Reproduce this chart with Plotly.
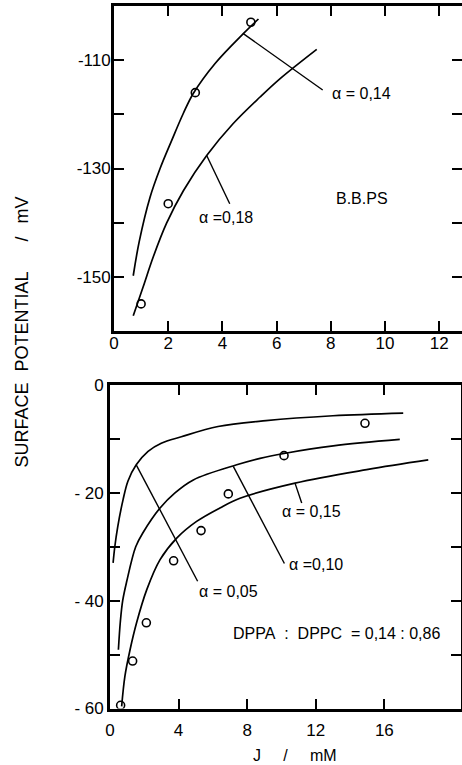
import plotly.graph_objects as go

# ---------------- data: top panel (BBPS) ----------------
bbps_pts_x = [1.0, 2.0, 3.0, 5.05]
bbps_pts_y = [-155.0, -136.5, -116.0, -103.0]

curve_014_x = [0.71, 0.93, 1.33, 1.70, 2.13, 2.56, 2.93, 3.73, 4.77, 5.33]
curve_014_y = [-149.8, -143.5, -135.3, -130.0, -124.8, -119.8, -116.1, -110.6, -105.1, -102.4]

curve_018_x = [0.71, 1.08, 1.45, 1.94, 2.56, 3.42, 4.40, 5.39, 6.13, 7.48]
curve_018_y = [-157.2, -151.8, -146.3, -140.1, -134.1, -127.6, -121.7, -116.8, -113.4, -108.0]

top_xticks = [0, 2, 4, 6, 8, 10, 12]
top_xtick_text = ["0", "2", "4", "6", "8", "10", "12"]
top_yticks = [-150, -140, -130, -120, -110]
top_ytick_text = ["-150", "", "-130", "", "-110"]

# ---------------- data: bottom panel (DPPA:DPPC) ----------------
dppa_pts_x = [0.62, 1.32, 2.12, 3.71, 5.31, 6.90, 10.15, 14.87]
dppa_pts_y = [-59.4, -51.2, -44.1, -32.6, -27.0, -20.2, -13.1, -7.1]

curve_005_x = [0.18, 0.28, 0.45, 0.76, 1.05, 1.53, 2.22, 2.99, 4.16, 6.30, 9.10, 13.0, 17.1]
curve_005_y = [-33.0, -30.0, -26.3, -21.3, -17.8, -14.8, -12.3, -10.8, -9.6, -7.7, -6.6, -5.7, -5.2]

curve_010_x = [0.49, 0.60, 0.74, 0.97, 1.50, 1.94, 2.92, 3.79, 4.86, 7.39, 8.75, 10.15, 13.02, 16.9]
curve_010_y = [-49.1, -44.0, -40.0, -36.5, -30.0, -27.3, -22.8, -20.0, -17.6, -14.8, -13.6, -12.7, -11.3, -10.1]

curve_015_x = [0.68, 0.87, 1.17, 1.55, 2.14, 2.92, 3.89, 5.05, 6.41, 7.58, 10.79, 14.97, 18.56]
curve_015_y = [-59.6, -54.0, -49.1, -44.1, -38.0, -32.4, -28.4, -25.3, -22.8, -21.0, -18.2, -15.7, -13.9]

bot_xticks = [0, 4, 8, 12, 16]
bot_xtick_text = ["0", "4", "8", "12", "16"]
bot_yticks = [-60, -50, -40, -30, -20, -10, 0]
bot_ytick_text = ["- 60", "", "- 40", "", "- 20", "", "0"]

FONT = "Liberation Sans"
W, H = 462, 765

fig = go.Figure()

line_style = dict(color="black", width=1.7)
marker_style = dict(symbol="circle-open", size=8, color="black", line=dict(width=1.6, color="black"))

# top panel traces
fig.add_trace(go.Scatter(x=curve_014_x, y=curve_014_y, mode="lines", line=line_style,
                         line_shape="spline", xaxis="x", yaxis="y"))
fig.add_trace(go.Scatter(x=curve_018_x, y=curve_018_y, mode="lines", line=line_style,
                         line_shape="spline", xaxis="x", yaxis="y"))
fig.add_trace(go.Scatter(x=bbps_pts_x, y=bbps_pts_y, mode="markers", marker=marker_style,
                         xaxis="x", yaxis="y"))

# bottom panel traces
for cx, cy in [(curve_005_x, curve_005_y), (curve_010_x, curve_010_y), (curve_015_x, curve_015_y)]:
    fig.add_trace(go.Scatter(x=cx, y=cy, mode="lines", line=line_style,
                             line_shape="spline", xaxis="x2", yaxis="y2"))
fig.add_trace(go.Scatter(x=dppa_pts_x, y=dppa_pts_y, mode="markers", marker=marker_style,
                         xaxis="x2", yaxis="y2"))

# dummy trace so the right-hand tick axis of the top panel renders
fig.add_trace(go.Scatter(x=[None], y=[None], xaxis="x", yaxis="y3", showlegend=False))

axis_common = dict(showgrid=False, zeroline=False, showline=True, linecolor="black",
                   linewidth=2.8, ticks="inside", ticklen=10, tickwidth=2, tickcolor="black",
                   tickfont=dict(family=FONT, size=17, color="black"), fixedrange=True)

fig.update_layout(
    template="none",
    width=W, height=H,
    margin=dict(l=0, r=0, t=0, b=0),
    paper_bgcolor="white", plot_bgcolor="rgba(0,0,0,0)",
    showlegend=False,
    xaxis=dict(domain=[114 / W, 1.0], anchor="y", range=[0, 12.84],
               tickmode="array", tickvals=top_xticks, ticktext=top_xtick_text,
               mirror="ticks", ticklabelstandoff=-5, **axis_common),
    yaxis=dict(domain=[1 - 331 / H, 1 - 6 / H], anchor="x", range=[-160, -100],
               tickmode="array", tickvals=top_yticks, ticktext=top_ytick_text,
               mirror=False, ticklabelstandoff=-3, **axis_common),
    yaxis3=dict(overlaying="y", side="right", anchor="x", range=[-160, -100],
                tickmode="array", tickvals=top_yticks, showticklabels=False,
                showgrid=False, zeroline=False, showline=False, ticks="inside",
                ticklen=10, tickwidth=2, tickcolor="black", fixedrange=True),
    xaxis2=dict(domain=[110 / W, 461 / W], anchor="y2", range=[0, 20.47],
                tickmode="array", tickvals=bot_xticks, ticktext=bot_xtick_text,
                mirror="ticks", ticklabelstandoff=4, **axis_common),
    yaxis2=dict(domain=[1 - 708.5 / H, 1 - 385 / H], anchor="x2", range=[-60, 0],
                tickmode="array", tickvals=bot_yticks, ticktext=bot_ytick_text,
                mirror="ticks", **axis_common),
)

# leader lines
lw = dict(color="black", width=1.4)
fig.add_shape(type="line", xref="x", yref="y", x0=4.77, y0=-105.1, x1=7.7, y1=-115.5, line=lw)
fig.add_shape(type="line", xref="x", yref="y", x0=3.42, y0=-127.6, x1=4.27, y1=-136.5, line=lw)
fig.add_shape(type="line", xref="x2", yref="y2", x0=1.53, y0=-14.8, x1=5.11, y1=-36.4, line=lw)
fig.add_shape(type="line", xref="x2", yref="y2", x0=7.19, y0=-15.1, x1=10.17, y1=-33.1, line=lw)
fig.add_shape(type="line", xref="x2", yref="y2", x0=10.79, y0=-18.2, x1=11.18, y1=-21.9, line=lw)

tf = dict(family=FONT, size=16, color="black")
labels = [
    ("x", "y", 7.97, -116.1, "α = 0,14"),
    ("x", "y", 3.06, -139.0, "α =0,18"),
    ("x", "y", 8.10, -135.5, "B.B.PS"),
    ("x2", "y2", 5.07, -38.3, "α = 0,05"),
    ("x2", "y2", 10.32, -33.3, "α =0,10"),
    ("x2", "y2", 9.91, -23.5, "α = 0,15"),
    ("x2", "y2", 7.06, -46.1, "DPPA\u00a0 : \u00a0DPPC\u00a0 = 0,14 : 0,86"),
]
for xr, yr, x, y, t in labels:
    fig.add_annotation(xref=xr, yref=yr, x=x, y=y, text=t, showarrow=False,
                       xanchor="left", yanchor="middle", font=tf)

# y-axis title, word by word
tfont = dict(family=FONT, size=18, color="black")
for word, yc in [("SURFACE", 425), ("POTENTIAL", 322), ("/", 239), ("mV", 210)]:
    fig.add_annotation(xref="paper", yref="paper", x=21.5 / W, y=1 - yc / H, text=word,
                       textangle=-90, showarrow=False, xanchor="center", yanchor="middle",
                       font=tfont)

# x-axis title
fig.add_annotation(xref="paper", yref="paper", x=295 / W, y=1 - 755 / H,
                   text="J\u00a0\u00a0\u00a0\u00a0\u00a0/\u00a0\u00a0\u00a0\u00a0\u00a0mM",
                   showarrow=False, xanchor="center", yanchor="middle",
                   font=dict(family=FONT, size=16, color="black"))

fig.write_html("out.html")
